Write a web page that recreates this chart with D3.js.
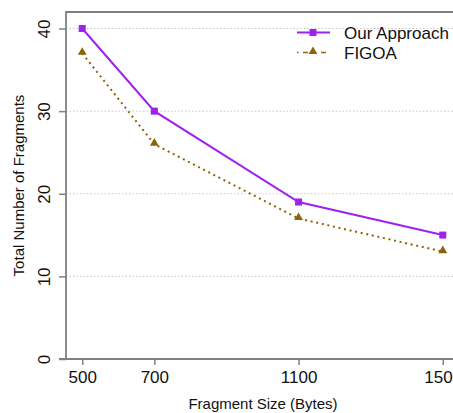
<!DOCTYPE html>
<html>
<head>
<meta charset="utf-8">
<script src="https://cdn.jsdelivr.net/npm/d3@7"></script>
<style>
  body { margin: 0; background: #fff; }
  text { font-family: Arial, "Liberation Sans", sans-serif; fill: #111; }
</style>
</head>
<body>
<div class="chart"></div>
<script>
const fragmentSizes = [500, 700, 1100, 1500]
const ourApproach = [40, 30, 19, 15]
const figoa = [37, 26, 17, 13]
const yTicks = [0, 10, 20, 30, 40]
const seriesNames = ["Our Approach", "FIGOA"]

const colors = {
  purple: "#A020F0",
  brown: "#8B6508",
  axis: "#808080",
  grid: "#C8C8C8"
}

const dims = { width: 453, height: 413, left: 66, top: 12, right: 459, bottom: 359 }

const xScale = d3.scaleLinear()
  .domain([455, 1545])
  .range([dims.left, dims.right])

const yScale = d3.scaleLinear()
  .domain([0, 42])
  .range([dims.bottom, dims.top])

const svg = d3.select(".chart").append("svg")
    .attr("width", dims.width)
    .attr("height", dims.height)

// dotted grid lines
svg.append("g")
  .selectAll("line")
  .data(yTicks.filter(d => d > 0))
  .join("line")
    .attr("x1", dims.left)
    .attr("x2", dims.right)
    .attr("y1", d => yScale(d))
    .attr("y2", d => yScale(d))
    .attr("stroke", colors.grid)
    .attr("stroke-width", 1)
    .attr("stroke-dasharray", "1.5,2")

// axes
const xAxis = d3.axisBottom(xScale)
  .tickValues(fragmentSizes)
  .tickSize(6)
  .tickPadding(6)
  .tickFormat(d3.format("d"))

const yAxis = d3.axisLeft(yScale)
  .tickValues(yTicks)
  .tickSize(7)
  .tickPadding(8)

svg.append("g")
    .attr("transform", `translate(0, ${dims.bottom})`)
    .call(xAxis)
    .call(g => g.select(".domain").remove())
    .call(g => g.selectAll(".tick line").attr("stroke", colors.axis).attr("stroke-width", 1.5))
    .call(g => g.selectAll(".tick text")
      .style("font-size", "17px")
      .attr("fill", "#111"))

svg.append("g")
    .attr("transform", `translate(${dims.left}, 0)`)
    .call(yAxis)
    .call(g => g.select(".domain").remove())
    .call(g => g.selectAll(".tick line").attr("stroke", colors.axis).attr("stroke-width", 1.5))
    .call(g => g.selectAll(".tick text")
      .style("font-size", "17px")
      .attr("fill", "#111")
      .attr("text-anchor", "middle")
      .attr("dy", null)
      .attr("x", null)
      .attr("transform", "translate(-22, 0) rotate(-90)")
      .attr("y", 6))

// plot frame (left, top, bottom)
svg.append("path")
    .attr("d", `M${dims.right + 10},${dims.top}H${dims.left}V${dims.bottom}H${dims.left - 7}M${dims.left},${dims.bottom}H${dims.right + 10}`)
    .attr("fill", "none")
    .attr("stroke", colors.axis)
    .attr("stroke-width", 1.8)

// axis titles
svg.append("text")
    .attr("x", 263)
    .attr("y", 409)
    .attr("text-anchor", "middle")
    .style("font-size", "15px")
    .text("Fragment Size (Bytes)")

svg.append("text")
    .attr("transform", `translate(24, ${(dims.top + dims.bottom) / 2}) rotate(-90)`)
    .attr("text-anchor", "middle")
    .style("font-size", "15px")
    .text("Total Number of Fragments")

// lines
const lineGenerator = (values) => d3.line()
  .x((d, i) => xScale(fragmentSizes[i]))
  .y(d => yScale(d))(values)

svg.append("path")
    .attr("d", lineGenerator(figoa))
    .attr("fill", "none")
    .attr("stroke", colors.brown)
    .attr("stroke-width", 2)
    .attr("stroke-dasharray", "2,3.7")

svg.append("path")
    .attr("d", lineGenerator(ourApproach))
    .attr("fill", "none")
    .attr("stroke", colors.purple)
    .attr("stroke-width", 2)

// markers
const triangle = d3.symbol().type(d3.symbolTriangle).size(34)

svg.append("g")
  .selectAll("path")
  .data(figoa)
  .join("path")
    .attr("d", triangle)
    .attr("transform", (d, i) => `translate(${xScale(fragmentSizes[i])}, ${yScale(d) - 1})`)
    .attr("fill", colors.brown)

svg.append("g")
  .selectAll("rect")
  .data(ourApproach)
  .join("rect")
    .attr("x", (d, i) => xScale(fragmentSizes[i]) - 3.5)
    .attr("y", d => yScale(d) - 3.5)
    .attr("width", 7)
    .attr("height", 7)
    .attr("fill", colors.purple)

// legend
const legend = svg.append("g")

legend.append("line")
    .attr("x1", 297).attr("x2", 330)
    .attr("y1", 32.5).attr("y2", 32.5)
    .attr("stroke", colors.purple)
    .attr("stroke-width", 2)
legend.append("rect")
    .attr("x", 309.5).attr("y", 29)
    .attr("width", 7).attr("height", 7)
    .attr("fill", colors.purple)

legend.append("line")
    .attr("x1", 297).attr("x2", 330)
    .attr("y1", 52.5).attr("y2", 52.5)
    .attr("stroke", colors.brown)
    .attr("stroke-width", 1.5)
    .attr("stroke-dasharray", "1.5,4.5,5,13,5,10")
legend.append("path")
    .attr("d", triangle)
    .attr("transform", "translate(313, 51.5)")
    .attr("fill", colors.brown)

legend.selectAll(".legend-text")
  .data(seriesNames)
  .join("text")
    .attr("class", "legend-text")
    .attr("x", 344)
    .attr("y", (d, i) => 32.5 + i * 20)
    .attr("dy", "0.36em")
    .style("font-size", "17px")
    .text(d => d)
</script>
</body>
</html>
